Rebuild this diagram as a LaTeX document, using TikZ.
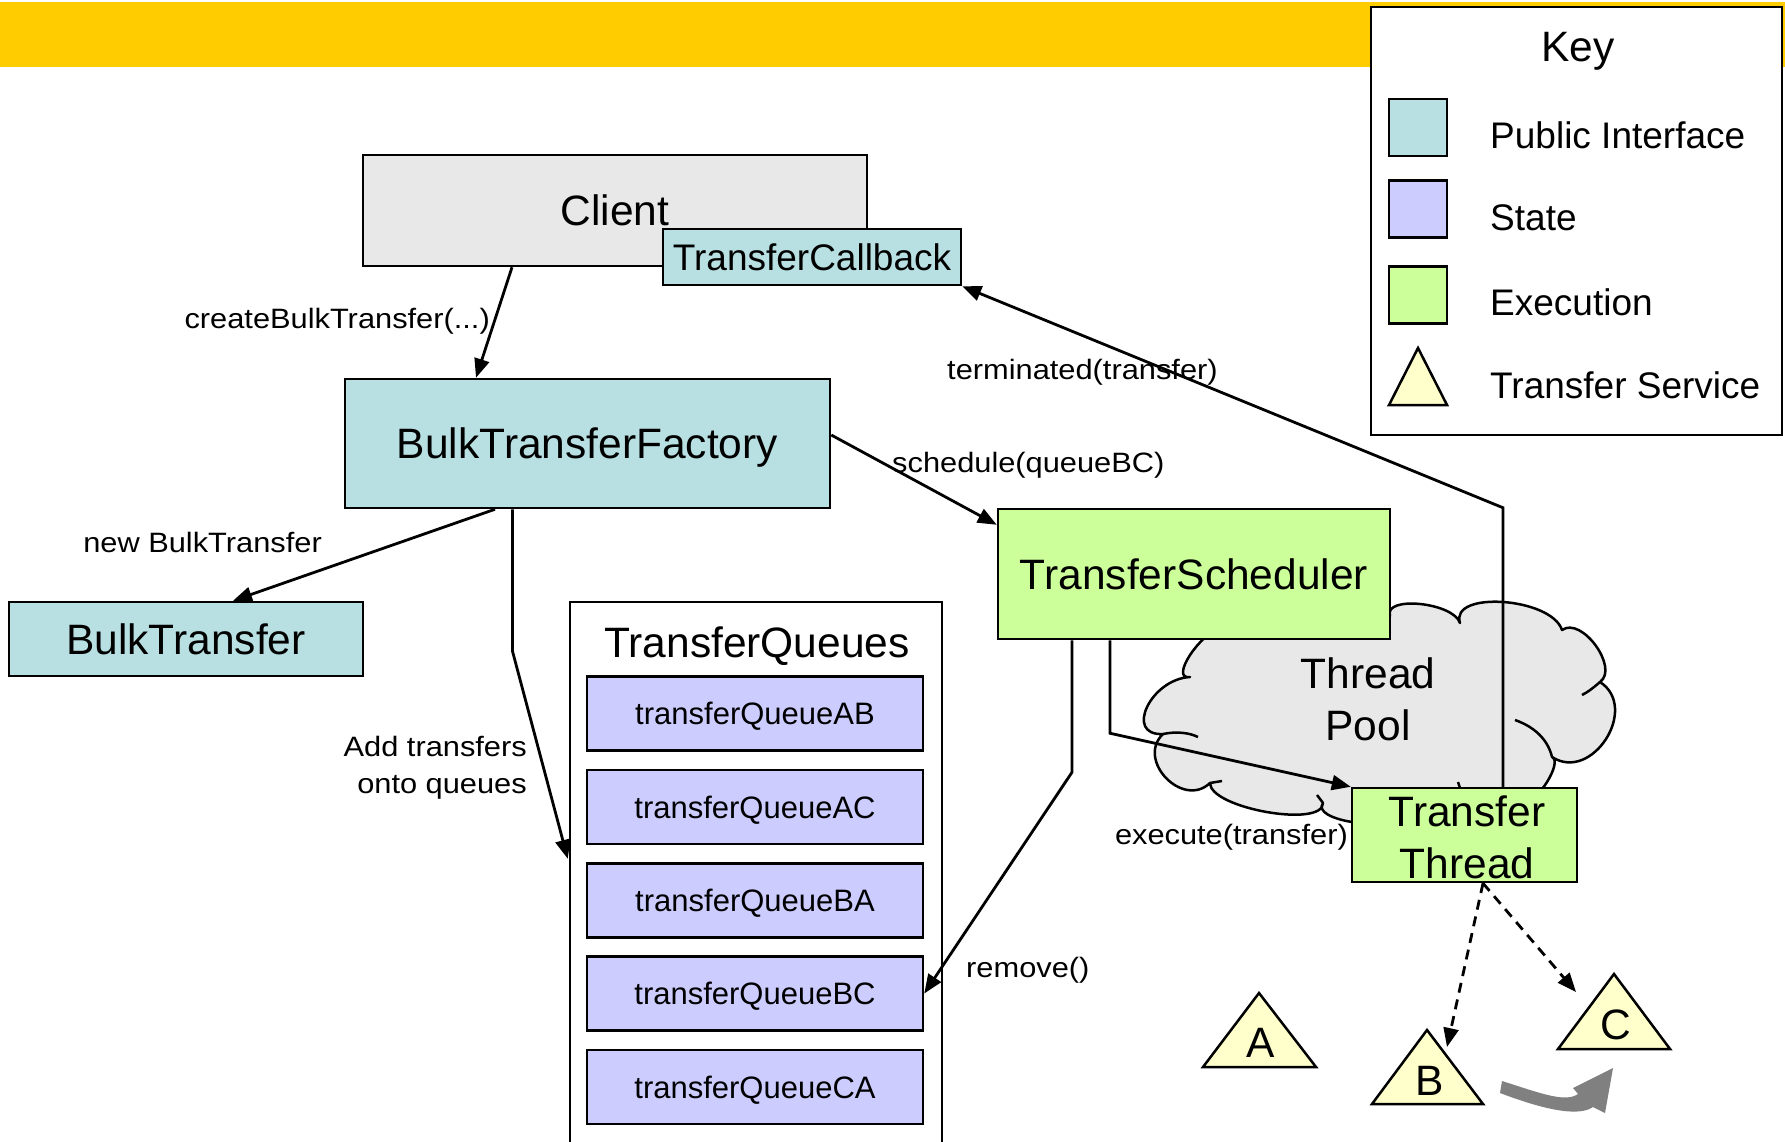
\documentclass[tikz,border=0pt]{standalone}
\usepackage{fontspec}
\setmainfont{Liberation Sans}
\newfontfamily\lblfont[FakeStretch=1.1]{Liberation Sans}
\usetikzlibrary{arrows.meta,calc}

\definecolor{bannerc}{HTML}{FFCC00}
\definecolor{pubif}{HTML}{B8E0E2}
\definecolor{statec}{HTML}{CCCCFF}
\definecolor{execc}{HTML}{CCFF99}
\definecolor{svcc}{HTML}{FFFFCC}
\definecolor{clientc}{HTML}{E8E8E8}
\definecolor{cloudc}{HTML}{E8E8E8}
\definecolor{bigarrowc}{HTML}{808080}

\begin{document}
\begin{tikzpicture}[x=1pt,y=-1pt,
  box/.style={draw=black, line width=2.5pt, inner sep=0pt,
    font={\fontsize{42.5}{51}\selectfont}, text height=30pt, text depth=0pt},
  cbbox/.style={box, font={\fontsize{37}{44}\selectfont}, text height=26pt},
  qbox/.style={box, fill=statec, minimum width=336pt, minimum height=74pt,
    font={\fontsize{31}{37}\selectfont}, text height=22pt},
  bigtxt/.style={inner sep=0pt, font={\fontsize{42.5}{51}\selectfont}},
  lbl/.style={inner sep=0pt, font={\lblfont\fontsize{28}{34}\selectfont}},
  keytxt/.style={inner sep=0pt, anchor=base west, font={\fontsize{37}{44}\selectfont}},
  keysq/.style={draw=black, line width=2.5pt, inner sep=0pt, minimum width=58pt, minimum height=57pt},
  tri/.style={draw=black, line width=2.5pt, fill=svcc, line join=miter},
  conn/.style={line width=2.8pt, -{Triangle[length=19pt,width=15pt]}},
  dconn/.style={conn, dash pattern=on 10pt off 7pt},
  puff/.style={line width=2.5pt},
]
\useasboundingbox (0,0) rectangle (1785,1141);

% title band
\fill[bannerc] (0,2) rectangle (1785,67);

% key
\node[draw=black, fill=white, line width=2.5pt, inner sep=0pt,
      minimum width=411pt, minimum height=428pt] (key) at (1576.5,221) {};
\node[bigtxt, anchor=base] (keyttl) at (1578,61) {Key};
\node[keysq, fill=pubif] (k1) at (1418,127.5) {};
\node[keysq, fill=statec] (k2) at (1418,209) {};
\node[keysq, fill=execc] (k3) at (1418,295) {};
\draw[tri] (1418,348) -- (1389,405) -- (1447,405) -- cycle;
\node[keytxt] (kt1) at (1490,148) {Public Interface};
\node[keytxt] (kt2) at (1490,230) {State};
\node[keytxt] (kt3) at (1490,315) {Execution};
\node[keytxt] (kt4) at (1490,398) {Transfer Service};

% thread pool cloud
\path[draw=black, puff, fill=cloudc, line join=round]
  (1222,628)
  .. controls (1200.7,631.3) and (1168.7,680.3) .. (1190,677)
  .. controls (1150.7,679) and (1123.7,736) .. (1163,734)
  .. controls (1135.7,760) and (1182.7,809) .. (1210,783)
  .. controls (1210,808.3) and (1323,828.3) .. (1323,803)
  .. controls (1310.3,820.3) and (1387.3,832.3) .. (1400,815)
  -- (1525,800)
  .. controls (1536.3,804.7) and (1563.3,761.7) .. (1552,757)
  .. controls (1592,783) and (1640,708) .. (1600,682)
  .. controls (1619.5,667.9) and (1581.5,615.9) .. (1562,630)
  .. controls (1551.3,597.3) and (1449.3,590.3) .. (1460,623)
  .. controls (1453.3,602.3) and (1383.3,595.3) .. (1390,616)
  -- (1300,600) -- cycle;
\draw[puff] (1163,734) .. controls (1177,731) and (1190,733) .. (1198,737);
\draw[puff] (1210,783) -- (1222,781);
\draw[puff] (1323,803) -- (1317,795);
\draw[puff] (1515,720) .. controls (1535,727) and (1548,740) .. (1552,757);
\draw[puff] (1600,682) .. controls (1593,688) and (1588,692) .. (1582,695);
\draw[puff] (1458,782) -- (1460,788);
\node[bigtxt, anchor=base] (tp1) at (1368,688) {Thread};
\node[bigtxt, anchor=base] (tp2) at (1368,740) {Pool};

% boxes
\node[box, fill=clientc, minimum width=504pt, minimum height=111pt] (client) at (615,210.5) {Client};
\node[cbbox, fill=pubif, minimum width=298pt, minimum height=56pt] (tcb) at (812,257) {TransferCallback};
\node[box, fill=pubif, minimum width=485pt, minimum height=129pt] (btf) at (587.5,443.5) {BulkTransferFactory};
\node[box, fill=pubif, minimum width=354pt, minimum height=74pt] (bt) at (186,639) {BulkTransfer};
\node[box, fill=white, minimum width=372pt, minimum height=560pt] (tq) at (756,882) {};
\node[bigtxt, anchor=base] (tqt) at (757,657) {TransferQueues};
\node[qbox] (qab) at (755,713.5) {transferQueueAB};
\node[qbox] (qac) at (755,807) {transferQueueAC};
\node[qbox] (qba) at (755,900.5) {transferQueueBA};
\node[qbox] (qbc) at (755,993.5) {transferQueueBC};
\node[qbox] (qca) at (755,1087) {transferQueueCA};
\node[box, fill=execc, minimum width=392pt, minimum height=130pt] (sched) at (1194,574) {TransferScheduler};
\node[box, fill=execc, minimum width=225pt, minimum height=94pt] (tt) at (1464.5,835) {};
\node[bigtxt, anchor=base] (tt1) at (1467,826) {Transfer};
\node[bigtxt, anchor=base] (tt2) at (1467,878) {Thread};

% transfer services
\coordinate (Aapex) at (1259,993);
\coordinate (Bapex) at (1427,1030);
\coordinate (Capex) at (1614,974);
\draw[tri] (Aapex) -- ++(-56,74) -- ++(113,0) -- cycle;
\draw[tri] (Bapex) -- ++(-55,74) -- ++(111,0) -- cycle;
\draw[tri] (Capex) -- ++(-56,75) -- ++(112,0) -- cycle;
\node[bigtxt, anchor=base] (tA) at (1261,1057) {A};
\node[bigtxt, anchor=base] (tB) at (1430,1095) {B};
\node[bigtxt, anchor=base] (tC) at (1616,1039) {C};

% connectors
\draw[conn] ([shift={(-103,0)}]client.south) -- ([shift={(-111.5,0)}]btf.north);
\draw[conn] ([shift={(-92.5,0)}]btf.south) -- ([shift={(47,0)}]bt.north);
\draw[conn] ([shift={(-75,0)}]btf.south) -- ([shift={(-75,142)}]btf.south) -- ([shift={(-1,258)}]tq.north west);
\draw[conn] ([shift={(0,-8.5)}]btf.east) -- ([shift={(0,17)}]sched.north west);
\draw[conn] ([shift={(38.5,0)}]tt.north) -- ([shift={(38.5,-279)}]tt.north) -- (tcb.south east);
\draw[conn] ([shift={(-122,0)}]sched.south) -- ([shift={(-122,132)}]sched.south) -- (qbc.east);
\draw[conn] ([shift={(-84,0)}]sched.south) -- ([shift={(-84,93)}]sched.south) -- (tt.north west);
\draw[dconn] ([shift={(18.5,0)}]tt.south) -- ([shift={(20,17)}]Bapex);
\draw[dconn] ([shift={(18.5,0)}]tt.south) -- ([shift={(-38,18)}]Capex);

% connector labels
\node[lbl, anchor=base east] (l1) at (490,328) {createBulkTransfer(...)};
\node[lbl, anchor=base east] (l2) at (322,552) {new BulkTransfer};
\node[lbl, anchor=base east] (l3a) at (527,756) {Add transfers};
\node[lbl, anchor=base east] (l3b) at (527,793) {onto queues};
\node[lbl, anchor=base west] (l4) at (892,472) {schedule(queueBC)};
\node[lbl, anchor=base west] (l5) at (947,379) {terminated(transfer)};
\node[lbl, anchor=base west] (l6) at (966,977) {remove()};
\node[lbl, anchor=base east] (l7) at (1348,844) {execute(transfer)};

% migration arrow from B towards C
\fill[bigarrowc] (1502,1081) .. controls (1540,1093) and (1565,1103) .. (1578,1094)
  -- (1573,1088) -- (1613,1068) -- (1605,1113) -- (1593,1107)
  .. controls (1580,1116) and (1550,1112) .. (1500,1093) -- cycle;
\end{tikzpicture}
\end{document}
